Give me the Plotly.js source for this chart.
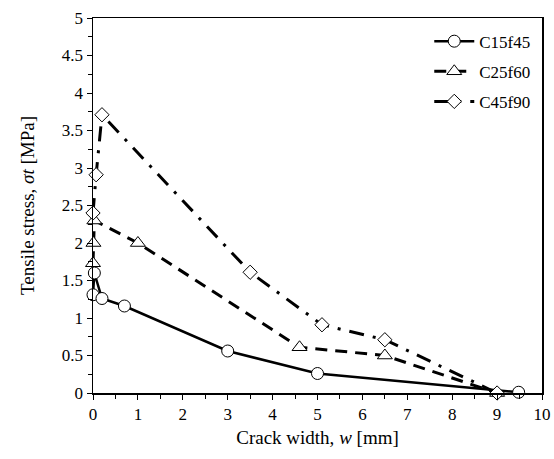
<!DOCTYPE html>
<html>
<head>
<meta charset="utf-8">
<script src="https://cdn.plot.ly/plotly-3.0.1.min.js"></script>
<style>html,body{margin:0;padding:0;background:#fff;}</style>
</head>
<body>
<div id="chart" style="width:554px;height:459px;"></div>
<script>
const seriesNames = ["C15f45", "C25f60", "C45f90"];
const c15_w = [0, 0.03, 0.2, 0.7, 3.0, 5.0, 9.48];
const c15_s = [1.31, 1.6, 1.26, 1.16, 0.56, 0.26, 0.01];
const c25_w = [0, 0.01, 0.03, 1.0, 4.6, 6.5, 9.0];
const c25_s = [1.73, 2.0, 2.3, 2.0, 0.61, 0.5, 0.0];
const c45_w = [0, 0.07, 0.2, 3.5, 5.1, 6.5, 9.0];
const c45_s = [2.4, 2.91, 3.71, 1.61, 0.91, 0.71, 0.0];

const font = "Liberation Serif";

const traces = [
  {x: c15_w, y: c15_s, name: seriesNames[0], legendgroup: "a", mode: "lines+markers", cliponaxis: false,
   line: {color: "#000", width: 2.5, dash: "solid"},
   marker: {symbol: "circle", size: 12, color: "#fff", line: {color: "#000", width: 1}}},
  {x: c25_w, y: c25_s, name: seriesNames[1], legendgroup: "b", mode: "lines+markers", cliponaxis: false,
   line: {color: "#000", width: 3, dash: "12px,8px"},
   marker: {symbol: "triangle-up", size: 13, color: "#fff", line: {color: "#000", width: 1}}},
  {x: c45_w, y: c45_s, name: seriesNames[2], legendgroup: "c", mode: "lines+markers", cliponaxis: false,
   line: {color: "#000", width: 3, dash: "15px,9px,3px,9px"},
   marker: {symbol: "diamond", size: 11, color: "#fff", line: {color: "#000", width: 1}}}
];

const layout = {
  width: 554, height: 459,
  margin: {l: 93, r: 12, t: 18, b: 66},
  paper_bgcolor: "#fff", plot_bgcolor: "#fff",
  font: {family: font, size: 17, color: "#000"},
  showlegend: true,
  legend: {x: 0.985, xanchor: "right", y: 0.985, yanchor: "top",
           bgcolor: "rgba(0,0,0,0)", font: {family: font, size: 17, color: "#000"},
           traceorder: "grouped", tracegroupgap: 5, itemwidth: 40},
  xaxis: {range: [0, 10], dtick: 1, tick0: 0, showgrid: false, zeroline: false,
          showline: true, mirror: true, linecolor: "#000", linewidth: 1.5,
          ticks: "outside", ticklen: 5, tickcolor: "#000",
          minor: {dtick: 0.5, ticks: "outside", ticklen: 4, tickcolor: "#000", showgrid: false},
          tickfont: {family: font, size: 17},
          title: {text: "Crack width, <i>w</i> [mm]", font: {family: font, size: 19}, standoff: 8}},
  yaxis: {range: [0, 5], dtick: 0.5, tick0: 0, showgrid: false, zeroline: false,
          showline: true, mirror: true, linecolor: "#000", linewidth: 1.5,
          ticks: "outside", ticklen: 5, tickcolor: "#000",
          minor: {dtick: 0.25, ticks: "outside", ticklen: 4, tickcolor: "#000", showgrid: false},
          tickfont: {family: font, size: 17},
          title: {text: "Tensile stress, <i>σt</i> [MPa]", font: {family: font, size: 19}, standoff: 22}}
};

Plotly.newPlot("chart", traces, layout, {displayModeBar: false, staticPlot: true});
</script>
</body>
</html>
